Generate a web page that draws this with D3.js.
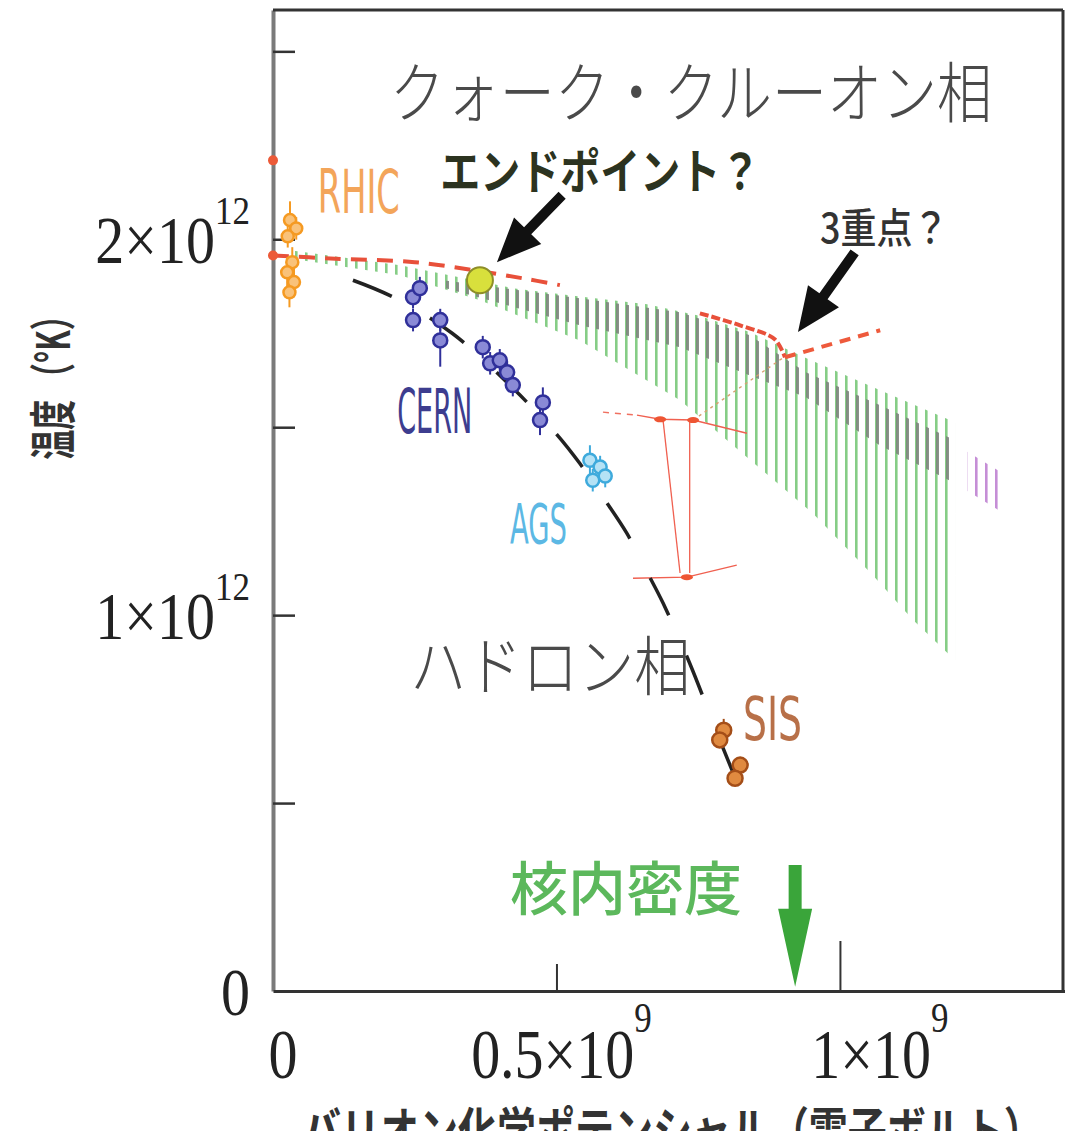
<!DOCTYPE html>
<html>
<head>
<meta charset="utf-8">
<script src="https://cdn.jsdelivr.net/npm/d3@7"></script>
<style>
  body { margin: 0; background: #fff; }
  svg { display: block; }
</style>
</head>
<body>
<div id="chart"></div>
<script>
// QCD phase diagram: baryon chemical potential (x 1e9 eV) vs temperature (x 1e12 K)

// crossover band (hatched), upper and lower edge
const muUpper = [0.030, 0.224, 0.423, 0.541, 0.660, 0.748, 0.841, 0.940, 1.071, 1.203];
const tUpper  = [1.971, 1.931, 1.870, 1.848, 1.827, 1.798, 1.753, 1.684, 1.598, 1.513];
const muLower = [0.030, 0.224, 0.365, 0.541, 0.718, 0.836, 0.952, 1.058, 1.129, 1.203];
const tLower  = [1.949, 1.904, 1.838, 1.731, 1.572, 1.420, 1.271, 1.106, 0.987, 0.880];

// darker (gray) part of the band
const muGray  = [0.300, 0.541, 0.718, 0.840, 0.940, 1.070, 1.203];
const grayTop = [1.891, 1.843, 1.806, 1.745, 1.646, 1.559, 1.465];
const grayBot = [1.872, 1.771, 1.713, 1.638, 1.580, 1.452, 1.351];

// purple tail
const muPurple  = [1.225, 1.290];
const purpleTop = [1.435, 1.375];
const purpleBot = [1.330, 1.270];

// red phase boundary lines
const redMu = [0, 0.101, 0.250, 0.353, 0.441, 0.506];
const redT  = [1.957, 1.949, 1.939, 1.918, 1.896, 1.878];
const firstOrderMu = [0.753, 0.824, 0.885, 0.903];
const firstOrderT  = [1.803, 1.771, 1.734, 1.686];
const triMu = [0.903, 1.071];
const triT  = [1.686, 1.758];

// thin red estimate (error box)
const latTopMu = [0.582, 0.642, 0.683, 0.741, 0.836];
const latTopT  = [1.540, 1.532, 1.521, 1.519, 1.484];
const latBotMu = [0.635, 0.730, 0.818];
const latBotT  = [1.098, 1.101, 1.133];
const latLeftMu = [0.688, 0.718];
const latLeftT  = [1.519, 1.112];
const latRightMu = [0.735, 0.735];
const latRightT  = [1.519, 1.112];
const latLinkMu = [0.741, 0.899];
const latLinkT  = [1.519, 1.684];
const latPtMu = [0.683, 0.741, 0.730];
const latPtT  = [1.521, 1.519, 1.101];

// chemical freeze-out curve (black dashed)
const foMu = [0.141, 0.212, 0.316, 0.423, 0.497, 0.541, 0.582, 0.624, 0.660, 0.688, 0.735, 0.788, 0.841];
const foT  = [1.891, 1.846, 1.750, 1.604, 1.487, 1.404, 1.314, 1.218, 1.114, 1.032, 0.872, 0.668, 0.473];

// experiments
const rhicMu  = [0.030, 0.041, 0.026, 0.034, 0.025, 0.037, 0.029];
const rhicT   = [2.051, 2.029, 2.008, 1.939, 1.912, 1.886, 1.859];
const rhicErr = [0.05, 0.03, 0.03, 0.04, 0.04, 0.04, 0.04];

const cernMu  = [0.247, 0.259, 0.247, 0.295, 0.295, 0.370, 0.383, 0.400, 0.413, 0.423, 0.476, 0.471];
const cernT   = [1.846, 1.870, 1.785, 1.785, 1.731, 1.713, 1.670, 1.678, 1.646, 1.612, 1.566, 1.519];
const cernErr = [0.03, 0.03, 0.03, 0.03, 0.07, 0.03, 0.03, 0.03, 0.03, 0.03, 0.04, 0.04];

const agsMu  = [0.559, 0.577, 0.564, 0.586];
const agsT   = [1.412, 1.394, 1.359, 1.370];
const agsErr = [0.04, 0.03, 0.03, 0.03];

const sisMu  = [0.795, 0.788, 0.824, 0.815];
const sisT   = [0.694, 0.668, 0.601, 0.566];
const sisErr = [0.03, 0.02, 0.02, 0.02];

const endPoint = [0.365, 1.891];
const axisDotT = [2.210, 1.957];

// ticks
const yTickVals = [0, 1, 2];
const yTickMant = ['0', '1×10', '2×10'];
const yTickExp  = ['', '12', '12'];
const xTickVals = [0, 0.5, 1];
const xTickMant = ['0', '0.5×10', '1×10'];
const xTickExp  = ['', '9', '9'];

const width = 1065, height = 1131;
const plotL = 273, plotR = 1065, plotT = 10, plotB = 991;

const x = d3.scaleLinear().domain([0, 1.397]).range([plotL, plotR]);
const y = d3.scaleLinear().domain([0, 2.61]).range([plotB, plotT]);

const svg = d3.select('#chart').append('svg')
    .attr('width', width)
    .attr('height', height);

const jp = '"Noto Sans CJK JP", "Noto Sans CJK SC", sans-serif';
const serif = '"Liberation Serif", "DejaVu Serif", serif';
const narrow = '"Liberation Sans Narrow", "DejaVu Sans Condensed", "Liberation Sans", sans-serif';

// hatch patterns
const defs = svg.append('defs');
function hatch(id, color, w, offset) {
    const p = defs.append('pattern')
        .attr('id', id)
        .attr('patternUnits', 'userSpaceOnUse')
        .attr('width', 10)
        .attr('height', 10);
    p.append('rect')
        .attr('x', offset).attr('y', 0)
        .attr('width', w).attr('height', 10)
        .attr('fill', color);
}
hatch('greenHatch', '#86cd86', 2.6, 5);
hatch('grayHatch', '#7d857d', 3.0, 6);
hatch('purpleHatch', '#c58ed6', 2.6, 5);

const closed = d3.line().x(d => x(d[0])).y(d => y(d[1])).curve(d3.curveLinearClosed);
function band(muT, tT, muB, tB) {
    const pts = muT.map((m, i) => [m, tT[i]])
        .concat(muB.map((m, i) => [m, tB[i]]).reverse());
    return closed(pts);
}

svg.append('path').attr('d', band(muUpper, tUpper, muLower, tLower)).attr('fill', 'url(#greenHatch)');
svg.append('path').attr('d', band(muGray, grayTop, muGray, grayBot)).attr('fill', 'url(#grayHatch)').attr('opacity', 0.9);
svg.append('path').attr('d', band(muPurple, purpleTop, muPurple, purpleBot)).attr('fill', 'url(#purpleHatch)');

// axes
const yAxis = d3.axisLeft(y).tickValues([0.5, 1, 1.5, 2, 2.5]).tickSize(-22).tickSizeOuter(0).tickFormat('');
const gy = svg.append('g').attr('transform', `translate(${plotL},0)`).call(yAxis);
gy.select('.domain').attr('stroke', '#7a7a7a').attr('stroke-width', 4);
gy.selectAll('.tick line').attr('stroke', '#333').attr('stroke-width', 2.5);

const xMinor = d3.axisBottom(x).tickValues([0.5]).tickSize(-27).tickSizeOuter(0).tickFormat('');
const gx = svg.append('g').attr('transform', `translate(0,${plotB})`).call(xMinor);
gx.select('.domain').attr('stroke', '#333').attr('stroke-width', 3);
gx.selectAll('.tick line').attr('stroke', '#333').attr('stroke-width', 2);

const xMajor = d3.axisBottom(x).tickValues([1]).tickSize(-50).tickSizeOuter(0).tickFormat('');
const gx2 = svg.append('g').attr('transform', `translate(0,${plotB})`).call(xMajor);
gx2.select('.domain').remove();
gx2.selectAll('.tick line').attr('stroke', '#333').attr('stroke-width', 2);

// frame top / right
svg.append('line').attr('x1', plotL).attr('x2', plotR - 2).attr('y1', plotT).attr('y2', plotT)
    .attr('stroke', '#333').attr('stroke-width', 3);
svg.append('line').attr('x1', plotR - 2).attr('x2', plotR - 2).attr('y1', plotT).attr('y2', plotB)
    .attr('stroke', '#333').attr('stroke-width', 3);

// tick labels
const tickLab = svg.append('g').attr('font-family', serif).attr('fill', '#222');
yTickVals.forEach((v, i) => {
    const t = tickLab.append('text')
        .attr('transform', `translate(250,${y(v) + 24}) scale(1,1.15)`)
        .attr('text-anchor', 'end')
        .attr('font-size', 58);
    t.append('tspan').text(yTickMant[i]);
    if (yTickExp[i]) t.append('tspan').attr('dy', -34).attr('font-size', 35).text(yTickExp[i]);
});
const xNudge = [10, 5, 40];
xTickVals.forEach((v, i) => {
    const t = tickLab.append('text')
        .attr('transform', `translate(${x(v) + xNudge[i]},1078) scale(1,1.2)`)
        .attr('text-anchor', 'middle')
        .attr('font-size', 58);
    t.append('tspan').text(xTickMant[i]);
    if (xTickExp[i]) t.append('tspan').attr('dy', -38).attr('font-size', 35).text(xTickExp[i]);
});

// lines
const lin = d3.line().x(d => x(d[0])).y(d => y(d[1]));
const smooth = d3.line().x(d => x(d[0])).y(d => y(d[1])).curve(d3.curveCatmullRom);
const zip = (a, b) => a.map((m, i) => [m, b[i]]);

function path(gen, mu, t, color, w, dash) {
    svg.append('path').attr('d', gen(zip(mu, t)))
        .attr('fill', 'none').attr('stroke', color).attr('stroke-width', w)
        .attr('stroke-dasharray', dash || null);
}

// thin red error box
path(lin, latTopMu.slice(0, 2), latTopT.slice(0, 2), '#f07060', 1.4, '6 6');
path(lin, latTopMu.slice(1), latTopT.slice(1), '#f06050', 1.4);
path(lin, latBotMu, latBotT, '#f06050', 1.4);
path(lin, latLeftMu, latLeftT, '#f06050', 1.3);
path(lin, latRightMu, latRightT, '#f06050', 1.3);
path(lin, latLinkMu, latLinkT, '#d8a070', 1.4, '3 4');
svg.append('g').selectAll('ellipse').data(latPtMu).join('ellipse')
    .attr('cx', d => x(d)).attr('cy', (d, i) => y(latPtT[i]))
    .attr('rx', 6).attr('ry', 3).attr('fill', '#ee5533');

// red boundaries
path(smooth, redMu, redT, '#e8503a', 4, '16 10');
path(smooth, firstOrderMu, firstOrderT, '#e8503a', 4, '9 3');
path(lin, triMu, triT, '#ee5a3c', 4, '11 8');

// freeze-out curve
path(smooth, foMu, foT, '#222', 3.5, '42 44');

// markers with error bars
function markers(mu, t, err, r, fill, stroke) {
    const g = svg.append('g');
    g.selectAll('line').data(mu).join('line')
        .attr('x1', d => x(d)).attr('x2', d => x(d))
        .attr('y1', (d, i) => y(t[i] + err[i])).attr('y2', (d, i) => y(t[i] - err[i]))
        .attr('stroke', stroke).attr('stroke-width', 2);
    g.selectAll('circle').data(mu).join('circle')
        .attr('cx', d => x(d)).attr('cy', (d, i) => y(t[i]))
        .attr('r', r).attr('fill', fill).attr('stroke', stroke).attr('stroke-width', 2.5);
}
markers(rhicMu, rhicT, rhicErr, 6, '#f9c27a', '#f59a22');
markers(cernMu, cernT, cernErr, 7, '#8a8ad6', '#30309a');
markers(agsMu, agsT, agsErr, 6.5, '#b5e2f5', '#3eaadc');
markers(sisMu, sisT, sisErr, 7.5, '#e08a40', '#a44e18');

svg.append('g').selectAll('circle').data(axisDotT).join('circle')
    .attr('cx', x(0)).attr('cy', d => y(d)).attr('r', 5).attr('fill', '#ec5a38');

svg.append('circle')
    .attr('cx', x(endPoint[0])).attr('cy', y(endPoint[1])).attr('r', 13)
    .attr('fill', '#d8e03c').attr('stroke', '#8e8e28').attr('stroke-width', 2);

// arrows
function arrow(tail, tip, shaftW, headW, headL, color) {
    const x0 = x(tail[0]), y0 = y(tail[1]), x1 = x(tip[0]), y1 = y(tip[1]);
    const L = Math.hypot(x1 - x0, y1 - y0), ux = (x1 - x0) / L, uy = (y1 - y0) / L;
    const nx = -uy, ny = ux, bx = x1 - ux * headL, by = y1 - uy * headL;
    const pts = [
        [x0 + nx * shaftW / 2, y0 + ny * shaftW / 2],
        [bx + nx * shaftW / 2, by + ny * shaftW / 2],
        [bx + nx * headW / 2, by + ny * headW / 2],
        [x1, y1],
        [bx - nx * headW / 2, by - ny * headW / 2],
        [bx - nx * shaftW / 2, by - ny * shaftW / 2],
        [x0 - nx * shaftW / 2, y0 - ny * shaftW / 2]
    ];
    svg.append('polygon').attr('points', pts.map(p => p.join(',')).join(' ')).attr('fill', color);
}
arrow([0.510, 2.117], [0.395, 1.939], 10, 38, 44, '#111');
arrow([1.026, 1.965], [0.926, 1.753], 10, 38, 44, '#111');
arrow([0.921, 0.335], [0.921, 0.011], 13, 34, 78, '#3aa53a');

// annotations (Japanese)
const notes = [
    { text: 'クォーク・クルーオン相', mu: 0.206, t: 2.326, size: 55, sy: 1.2, color: '#4a4a4a', weight: 300 },
    { text: 'エンドポイント？', mu: 0.295, t: 2.134, size: 40, sy: 1.2, color: '#2c3320', weight: 700 },
    { text: '3重点？', mu: 0.965, t: 1.989, size: 36, sy: 1.15, color: '#333', weight: 500 },
    { text: 'ハドロン相', mu: 0.242, t: 0.801, size: 56, sy: 1.15, color: '#4a4a4a', weight: 300 },
    { text: '核内密度', mu: 0.418, t: 0.215, size: 58, sy: 1.0, color: '#5cb85c', weight: 500 }
];
notes.forEach(n => {
    svg.append('text')
        .attr('transform', `translate(${x(n.mu)},${y(n.t)}) scale(1,${n.sy})`)
        .attr('font-family', jp).attr('font-size', n.size).attr('font-weight', n.weight)
        .attr('fill', n.color).text(n.text);
});

// experiment names
const names = [
    { text: 'RHIC', mu: 0.079, t: 2.069, size: 60, len: 82, color: '#f3a55a' },
    { text: 'CERN', mu: 0.219, t: 1.484, size: 62, len: 75, color: '#3d3d8f' },
    { text: 'AGS',  mu: 0.418, t: 1.191, size: 56, len: 57, color: '#5cb8e4' },
    { text: 'SIS',  mu: 0.829, t: 0.668, size: 60, len: 59, color: '#b87048' }
];
names.forEach(n => {
    svg.append('text')
        .attr('x', x(n.mu)).attr('y', y(n.t))
        .attr('font-family', narrow).attr('font-size', n.size)
        .attr('textLength', n.len).attr('lengthAdjust', 'spacingAndGlyphs')
        .attr('fill', n.color).text(n.text);
});

// axis titles
svg.append('text')
    .attr('transform', 'translate(50,380) rotate(-90) scale(1,1.55)')
    .attr('text-anchor', 'middle').attr('dominant-baseline', 'central')
    .attr('font-family', jp).attr('font-size', 30).attr('font-weight', 700)
    .attr('fill', '#333').text('温度 （°K）');

svg.append('text')
    .attr('transform', 'translate(302,1150) scale(1,1.3)')
    .attr('font-family', jp).attr('font-size', 39).attr('font-weight', 700)
    .attr('fill', '#333').text('バリオン化学ポテンシャル（電子ボルト）');
</script>
</body>
</html>
